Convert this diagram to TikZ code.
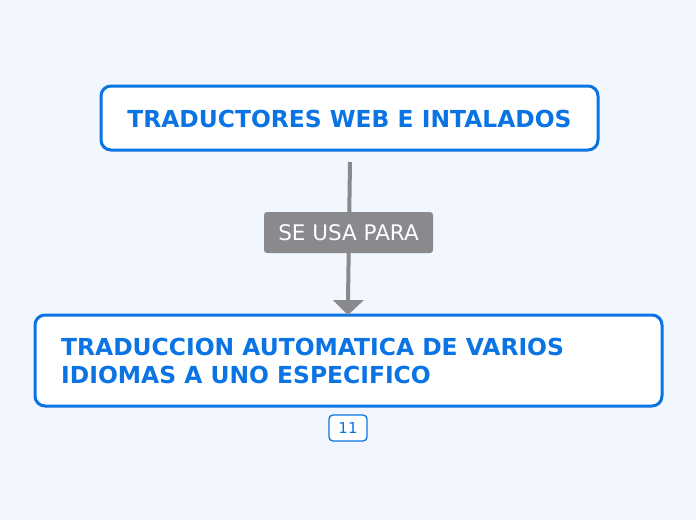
\documentclass[tikz,border=0pt]{standalone}
\usepackage{fontspec}
\setmainfont{DejaVu Sans}
\usetikzlibrary{arrows.meta}
\definecolor{bg}{HTML}{F2F6FE}
\definecolor{blu}{HTML}{0A74E4}
\definecolor{gry}{HTML}{8A8A8E}
\tikzset{
  mainbox/.style={draw=blu, line width=3pt, fill=white, rounded corners=10pt},
  maintext/.style={text=blu, font=\fontsize{23.4}{28}\selectfont\bfseries},
  linklabel/.style={fill=gry, rounded corners=3pt, text=white, font=\fontsize{21.5}{24}\selectfont, inner sep=0pt, minimum width=169pt, minimum height=41pt},
  badge/.style={draw=blu, line width=1.3pt, fill=white, rounded corners=4pt, text=blu, font=\fontsize{15}{16}\selectfont, minimum width=38pt, minimum height=26pt, inner sep=0pt},
  conn/.style={draw=gry, line width=4pt}
}
\begin{document}
\begin{tikzpicture}[x=1pt,y=-1pt]
\fill[bg] (0,0) rectangle (696,520);
\useasboundingbox (0,0) rectangle (696,520);
% top box
\draw[mainbox] (101,86) rectangle (598,150);
\node[maintext, anchor=center] (top) at (349.5,118.5) {TRADUCTORES WEB E INTALADOS};
\coordinate (topb) at (350,162);
% bottom box
\draw[mainbox] (35,315) rectangle (662,406);
\node[maintext, anchor=west, align=left, inner sep=0pt] (bot) at (61,361) {TRADUCCION AUTOMATICA DE VARIOS\\IDIOMAS A UNO ESPECIFICO};
\coordinate (arrtip) at (348,315);
\coordinate (arrbase) at (348,300);
% connector
\draw[conn] (topb) -- (arrbase);
\fill[gry] (333,300) -- (364,300) -- (arrtip) -- cycle;
\node[linklabel] (lbl) at (348.5,232.5) {SE USA PARA};
% badge
\node[badge] (num) at (348,428) {11};
\end{tikzpicture}
\end{document}
